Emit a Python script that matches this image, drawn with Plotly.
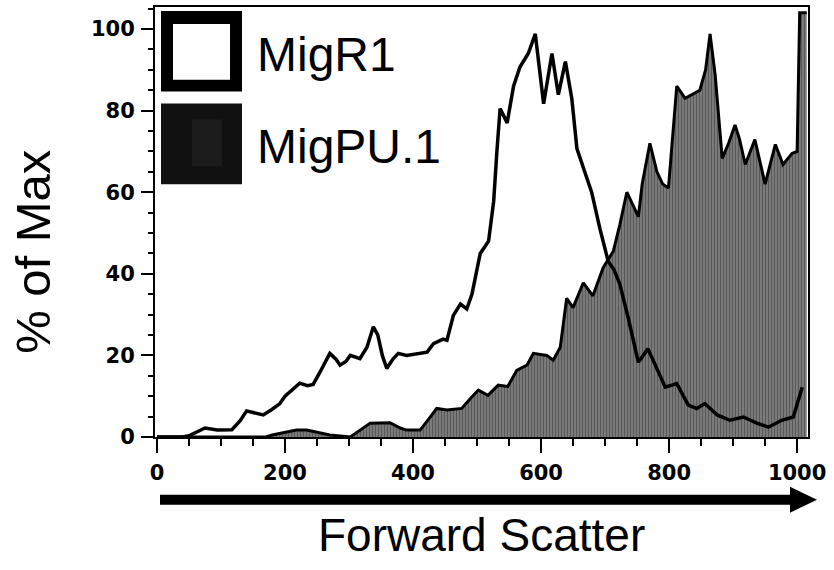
import plotly.graph_objects as go

# ---- data ----
migr1_x = [0, 40, 50, 60, 75, 94, 117, 130, 140, 150, 166, 180, 192, 200, 210, 223, 235, 244, 255,
           270, 280, 286, 295, 302, 317, 328, 338, 345, 352, 359, 368, 377, 390, 406, 422, 432, 447,
           453, 463, 474, 484, 492, 505, 518, 526, 531, 536, 547, 557, 567, 575, 580, 591, 604, 617,
           627, 638, 648, 656, 668, 679, 692, 705, 714, 723, 736, 752, 767, 780, 794, 812, 830, 843,
           856, 875, 895, 916, 937, 955, 976, 994, 1000, 1008]
migr1_y = [0, 0, 0.3, 1, 2.2, 1.7, 1.8, 4, 6.4, 6, 5.4, 6.8, 8.2, 10, 11.5, 13.2, 12.6, 12.9, 16,
           20.5, 19, 17.6, 18.5, 20, 19.2, 22, 27, 25, 20, 16.8, 19, 20.5, 20, 20.5, 20.8, 22.9, 24,
           23.7, 29.8, 32.6, 31.4, 35, 45, 48, 57.8, 70, 80.5, 77, 86, 90.7, 93, 94, 98.8, 81.7, 94,
           83.9, 92, 83, 70.7, 65, 60, 51, 43, 41, 37.5, 29.3, 18.3, 21.6, 17, 12.2, 13.1, 7.8, 7,
           8.2, 5.4, 4.1, 4.9, 3.4, 2.4, 4.1, 4.9, 8, 12.2]

migpu_x = [0, 170, 180, 200, 218, 234, 255, 270, 302, 315, 333, 364, 380, 390, 411, 425, 437, 453,
           476, 490, 502, 517, 533, 548, 562, 578, 588, 609, 619, 630, 636, 640, 650, 666, 681, 697,
           713, 723, 734, 752, 758, 770, 781, 790, 799, 806, 812, 825, 836, 848, 857, 864, 872, 883,
           893, 903, 910, 919, 934, 950, 966, 978, 992, 1000, 1004, 1015]
migpu_y = [0, 0, 0.5, 1.2, 1.7, 1.7, 1, 0.5, 0, 1.5, 3.4, 3.5, 2.2, 1.7, 1.7, 4.5, 7, 6.6,
           7, 9.5, 11.5, 10.2, 12.7, 12.4, 16.3, 17.6, 20.5, 20, 18.8, 22, 30, 34, 31.7, 37.8, 34.6, 41.5,
           45.6, 52, 60, 54, 62, 72, 65, 62, 61, 75, 86, 83, 84, 85, 90, 98.8, 88.7, 68.3,
           72, 76.5, 73, 66.8, 72.9, 62, 71.7, 66.8, 69.5, 70, 104, 104]

series_names = ["MigR1", "MigPU.1"]
x_ticks = [0, 200, 400, 600, 800, 1000]
y_ticks = [0, 20, 40, 60, 80, 100]

# ---- layout geometry (pixels) ----
W, H = 834, 570
ML, MR, MT, MB = 155, 26, 5, 133
PW, PH = W - ML - MR, H - MT - MB


def px(xp):
    return (xp - ML) / PW


def py(yp):
    return (H - MB - yp) / PH


fig = go.Figure()
fig.add_trace(go.Scatter(
    x=migpu_x, y=migpu_y, name=series_names[1], mode="lines",
    line=dict(color="black", width=3), fill="tozeroy",
    fillcolor="#686868",
    fillpattern=dict(shape="|", bgcolor="#808080", fgcolor="#303030", size=3, solidity=0.45),
    showlegend=False))
fig.add_trace(go.Scatter(
    x=migr1_x, y=migr1_y, name=series_names[0], mode="lines",
    line=dict(color="black", width=3.5), showlegend=False))

shapes = []
# legend boxes
shapes.append(dict(type="rect", xref="paper", yref="paper", x0=px(161), x1=px(242), y0=py(90), y1=py(9),
                   fillcolor="black", line=dict(width=0), layer="above"))
shapes.append(dict(type="rect", xref="paper", yref="paper", x0=px(173), x1=px(230), y0=py(78), y1=py(22),
                   fillcolor="white", line=dict(width=0), layer="above"))
shapes.append(dict(type="rect", xref="paper", yref="paper", x0=px(161), x1=px(242), y0=py(183), y1=py(102),
                   fillcolor="#111111", line=dict(width=0), layer="above"))
shapes.append(dict(type="rect", xref="paper", yref="paper", x0=px(192), x1=px(222), y0=py(165), y1=py(118),
                   fillcolor="#1c1c1c", line=dict(width=0), layer="above"))
# arrow below x axis
shapes.append(dict(type="path", xref="paper", yref="paper",
                   path=(f"M {px(160)} {py(495)} L {px(790)} {py(495)} L {px(790)} {py(487)} "
                         f"L {px(817)} {py(500)} L {px(790)} {py(513)} L {px(790)} {py(505)} "
                         f"L {px(160)} {py(505)} Z"),
                   fillcolor="black", line=dict(width=0)))

legend_font = dict(family="Liberation Sans, Arial", size=48, color="black")
annotations = [
    dict(text="MigR1", xref="paper", yref="paper", x=px(255), y=py(53), xanchor="left", yanchor="middle",
         showarrow=False, font=legend_font),
    dict(text="MigPU.1", xref="paper", yref="paper", x=px(255), y=py(145), xanchor="left", yanchor="middle",
         showarrow=False, font=legend_font),
    dict(text="% of Max", xref="paper", yref="paper", x=px(33), y=py(251), xanchor="center", yanchor="middle",
         textangle=-90, showarrow=False,
         font=dict(family="Liberation Sans, Arial", size=49, color="black")),
    dict(text="Forward Scatter", xref="paper", yref="paper", x=px(482), y=py(535), xanchor="center",
         yanchor="middle", showarrow=False,
         font=dict(family="Liberation Sans, Arial", size=46, color="black")),
]

tickfont = dict(family="DejaVu Sans", size=21, color="black", weight="bold")

fig.update_layout(
    width=W, height=H, margin=dict(l=ML, r=MR, t=MT, b=MB, pad=0),
    paper_bgcolor="white", plot_bgcolor="white",
    shapes=shapes, annotations=annotations, showlegend=False,
    xaxis=dict(range=[-3.1, 1017], tickvals=x_ticks, ticks="outside", ticklen=14, tickwidth=2,
               tickcolor="black", showline=True, linecolor="black", linewidth=2, mirror=True,
               showgrid=False, zeroline=False, tickfont=tickfont, ticklabelstandoff=2,
               minor=dict(dtick=50, tick0=0, ticks="outside", ticklen=7, tickwidth=1.5, tickcolor="black",
                          showgrid=False)),
    yaxis=dict(range=[0, 105.4], tickvals=y_ticks, ticks="outside", ticklen=12, tickwidth=2,
               tickcolor="black", showline=True, linecolor="black", linewidth=2, mirror=True,
               showgrid=False, zeroline=False, tickfont=tickfont, ticklabelstandoff=2,
               minor=dict(dtick=5, tick0=0, ticks="outside", ticklen=5, tickwidth=1.5, tickcolor="black",
                          showgrid=False)),
)

fig.write_html("out.html")
